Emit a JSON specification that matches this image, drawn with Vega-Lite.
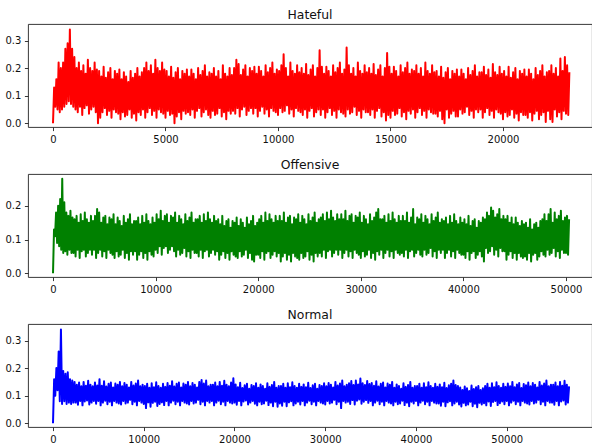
{
"$schema": "https://vega.github.io/schema/vega-lite/v6.json",
"background": "white",
"padding": {"left": 4, "top": 8, "right": 0, "bottom": 0},
"bounds": "flush",
"spacing": 47,
"config": {
  "font": "DejaVu Sans",
  "view": {"stroke": "#222222", "strokeWidth": 0.9},
  "axis": {"grid": false, "domain": false, "tickColor": "#222222", "tickWidth": 0.9, "tickSize": 3.6, "labelPadding": 3.6, "labelFont": "DejaVu Sans", "labelFontSize": 10, "labelColor": "#111111", "labelFlush": false, "labelOverlap": false},
  "title": {"font": "DejaVu Sans", "fontSize": 12.4, "fontWeight": "normal", "color": "#111111", "offset": 3, "anchor": "middle", "baseline": "alphabetic"}
},
"datasets": {
"hateful": [
{"x":0,"y":0},{"x":50,"y":0.13},{"x":100,"y":0.06},{"x":150,"y":0.16},{"x":200,"y":0.05},{"x":250,"y":0.22},{"x":300,"y":0.04},{"x":350,"y":0.2},{"x":400,"y":0.05},{"x":450,"y":0.22},{"x":500,"y":0.06},{"x":550,"y":0.27},{"x":600,"y":0.07},{"x":650,"y":0.29},{"x":700,"y":0.08},{"x":750,"y":0.34},{"x":800,"y":0.07},{"x":850,"y":0.27},{"x":900,"y":0.06},{"x":950,"y":0.24},
{"x":1000,"y":0.05},{"x":1050,"y":0.2},{"x":1100,"y":0.04},{"x":1150,"y":0.22},{"x":1200,"y":0.06},{"x":1250,"y":0.19},{"x":1300,"y":0.03},{"x":1350,"y":0.21},{"x":1400,"y":0.055},{"x":1450,"y":0.18},{"x":1500,"y":0.065},{"x":1550,"y":0.23},{"x":1600,"y":0.035},{"x":1650,"y":0.2},{"x":1700,"y":0.05},{"x":1750,"y":0.19},{"x":1800,"y":0.06},{"x":1850,"y":0.22},{"x":1900,"y":0.04},{"x":1950,"y":0.195},
{"x":2000,"y":0},{"x":2050,"y":0.19},{"x":2100,"y":0.02},{"x":2150,"y":0.17},{"x":2200,"y":0.04},{"x":2250,"y":0.205},{"x":2300,"y":0.055},{"x":2350,"y":0.165},{"x":2400,"y":0.03},{"x":2450,"y":0.185},{"x":2500,"y":0.045},{"x":2550,"y":0.2},{"x":2600,"y":0.02},{"x":2650,"y":0.16},{"x":2700,"y":0.05},{"x":2750,"y":0.19},{"x":2800,"y":0.04},{"x":2850,"y":0.18},{"x":2900,"y":0.035},{"x":2950,"y":0.195},
{"x":3000,"y":0.015},{"x":3050,"y":0.16},{"x":3100,"y":0.04},{"x":3150,"y":0.185},{"x":3200,"y":0.025},{"x":3250,"y":0.17},{"x":3300,"y":0.03},{"x":3350,"y":0.15},{"x":3400,"y":0.05},{"x":3450,"y":0.19},{"x":3500,"y":0.02},{"x":3550,"y":0.165},{"x":3600,"y":0.035},{"x":3650,"y":0.18},{"x":3700,"y":0.01},{"x":3750,"y":0.2},{"x":3800,"y":0.04},{"x":3850,"y":0.17},{"x":3900,"y":0.03},{"x":3950,"y":0.185},
{"x":4000,"y":0.05},{"x":4050,"y":0.2},{"x":4100,"y":0.02},{"x":4150,"y":0.22},{"x":4200,"y":0.04},{"x":4250,"y":0.19},{"x":4300,"y":0.055},{"x":4350,"y":0.21},{"x":4400,"y":0.03},{"x":4450,"y":0.18},{"x":4500,"y":0.045},{"x":4550,"y":0.23},{"x":4600,"y":0.02},{"x":4650,"y":0.2},{"x":4700,"y":0.05},{"x":4750,"y":0.19},{"x":4800,"y":0.04},{"x":4850,"y":0.22},{"x":4900,"y":0.035},{"x":4950,"y":0.195},
{"x":5000,"y":0.02},{"x":5050,"y":0.19},{"x":5100,"y":0.045},{"x":5150,"y":0.17},{"x":5200,"y":0.03},{"x":5250,"y":0.205},{"x":5300,"y":0.035},{"x":5350,"y":0.165},{"x":5400,"y":0},{"x":5450,"y":0.185},{"x":5500,"y":0.025},{"x":5550,"y":0.2},{"x":5600,"y":0.04},{"x":5650,"y":0.16},{"x":5700,"y":0.015},{"x":5750,"y":0.19},{"x":5800,"y":0.045},{"x":5850,"y":0.18},{"x":5900,"y":0.035},{"x":5950,"y":0.195},
{"x":6000,"y":0.04},{"x":6050,"y":0.17},{"x":6100,"y":0.03},{"x":6150,"y":0.195},{"x":6200,"y":0.05},{"x":6250,"y":0.18},{"x":6300,"y":0.02},{"x":6350,"y":0.16},{"x":6400,"y":0.045},{"x":6450,"y":0.2},{"x":6500,"y":0.055},{"x":6550,"y":0.175},{"x":6600,"y":0.025},{"x":6650,"y":0.19},{"x":6700,"y":0.04},{"x":6750,"y":0.21},{"x":6800,"y":0.05},{"x":6850,"y":0.17},{"x":6900,"y":0.03},{"x":6950,"y":0.185},
{"x":7000,"y":0.02},{"x":7050,"y":0.18},{"x":7100,"y":0.045},{"x":7150,"y":0.2},{"x":7200,"y":0.03},{"x":7250,"y":0.17},{"x":7300,"y":0.035},{"x":7350,"y":0.19},{"x":7400,"y":0.055},{"x":7450,"y":0.16},{"x":7500,"y":0.025},{"x":7550,"y":0.21},{"x":7600,"y":0.04},{"x":7650,"y":0.18},{"x":7700,"y":0.015},{"x":7750,"y":0.17},{"x":7800,"y":0.045},{"x":7850,"y":0.2},{"x":7900,"y":0.035},{"x":7950,"y":0.175},
{"x":8000,"y":0.045},{"x":8050,"y":0.2},{"x":8100,"y":0.035},{"x":8150,"y":0.23},{"x":8200,"y":0.055},{"x":8250,"y":0.215},{"x":8300,"y":0.025},{"x":8350,"y":0.175},{"x":8400,"y":0.05},{"x":8450,"y":0.195},{"x":8500,"y":0.06},{"x":8550,"y":0.21},{"x":8600,"y":0.03},{"x":8650,"y":0.17},{"x":8700,"y":0.045},{"x":8750,"y":0.2},{"x":8800,"y":0.055},{"x":8850,"y":0.19},{"x":8900,"y":0.035},{"x":8950,"y":0.205},
{"x":9000,"y":0.055},{"x":9050,"y":0.18},{"x":9100,"y":0.025},{"x":9150,"y":0.205},{"x":9200,"y":0.045},{"x":9250,"y":0.19},{"x":9300,"y":0.06},{"x":9350,"y":0.17},{"x":9400,"y":0.035},{"x":9450,"y":0.21},{"x":9500,"y":0.05},{"x":9550,"y":0.185},{"x":9600,"y":0.025},{"x":9650,"y":0.2},{"x":9700,"y":0.055},{"x":9750,"y":0.22},{"x":9800,"y":0.045},{"x":9850,"y":0.18},{"x":9900,"y":0.04},{"x":9950,"y":0.195},
{"x":10000,"y":0.03},{"x":10050,"y":0.19},{"x":10100,"y":0.055},{"x":10150,"y":0.21},{"x":10200,"y":0.04},{"x":10250,"y":0.25},{"x":10300,"y":0.045},{"x":10350,"y":0.2},{"x":10400,"y":0.065},{"x":10450,"y":0.17},{"x":10500,"y":0.035},{"x":10550,"y":0.22},{"x":10600,"y":0.05},{"x":10650,"y":0.19},{"x":10700,"y":0.025},{"x":10750,"y":0.18},{"x":10800,"y":0.055},{"x":10850,"y":0.21},{"x":10900,"y":0.045},{"x":10950,"y":0.185},
{"x":11000,"y":0.04},{"x":11050,"y":0.2},{"x":11100,"y":0.03},{"x":11150,"y":0.18},{"x":11200,"y":0.05},{"x":11250,"y":0.215},{"x":11300,"y":0.02},{"x":11350,"y":0.175},{"x":11400,"y":0.045},{"x":11450,"y":0.195},{"x":11500,"y":0.055},{"x":11550,"y":0.21},{"x":11600,"y":0.025},{"x":11650,"y":0.17},{"x":11700,"y":0.04},{"x":11750,"y":0.2},{"x":11800,"y":0.05},{"x":11850,"y":0.265},{"x":11900,"y":0.03},{"x":11950,"y":0.205},
{"x":12000,"y":0.05},{"x":12050,"y":0.18},{"x":12100,"y":0.02},{"x":12150,"y":0.205},{"x":12200,"y":0.04},{"x":12250,"y":0.19},{"x":12300,"y":0.055},{"x":12350,"y":0.17},{"x":12400,"y":0.03},{"x":12450,"y":0.21},{"x":12500,"y":0.045},{"x":12550,"y":0.185},{"x":12600,"y":0.02},{"x":12650,"y":0.2},{"x":12700,"y":0.05},{"x":12750,"y":0.22},{"x":12800,"y":0.04},{"x":12850,"y":0.18},{"x":12900,"y":0.035},{"x":12950,"y":0.195},
{"x":13000,"y":0.025},{"x":13050,"y":0.275},{"x":13100,"y":0.05},{"x":13150,"y":0.21},{"x":13200,"y":0.035},{"x":13250,"y":0.18},{"x":13300,"y":0.04},{"x":13350,"y":0.2},{"x":13400,"y":0.06},{"x":13450,"y":0.17},{"x":13500,"y":0.03},{"x":13550,"y":0.22},{"x":13600,"y":0.045},{"x":13650,"y":0.19},{"x":13700,"y":0.02},{"x":13750,"y":0.18},{"x":13800,"y":0.05},{"x":13850,"y":0.21},{"x":13900,"y":0.04},{"x":13950,"y":0.185},
{"x":14000,"y":0.04},{"x":14050,"y":0.2},{"x":14100,"y":0.03},{"x":14150,"y":0.18},{"x":14200,"y":0.05},{"x":14250,"y":0.215},{"x":14300,"y":0.02},{"x":14350,"y":0.175},{"x":14400,"y":0.045},{"x":14450,"y":0.195},{"x":14500,"y":0.055},{"x":14550,"y":0.21},{"x":14600,"y":0.025},{"x":14650,"y":0.17},{"x":14700,"y":0.04},{"x":14750,"y":0.2},{"x":14800,"y":0.01},{"x":14850,"y":0.255},{"x":14900,"y":0.03},{"x":14950,"y":0.205},
{"x":15000,"y":0.02},{"x":15050,"y":0.18},{"x":15100,"y":0.045},{"x":15150,"y":0.205},{"x":15200,"y":0.03},{"x":15250,"y":0.19},{"x":15300,"y":0.035},{"x":15350,"y":0.17},{"x":15400,"y":0.055},{"x":15450,"y":0.21},{"x":15500,"y":0.025},{"x":15550,"y":0.185},{"x":15600,"y":0.04},{"x":15650,"y":0.2},{"x":15700,"y":0.015},{"x":15750,"y":0.22},{"x":15800,"y":0.045},{"x":15850,"y":0.18},{"x":15900,"y":0.035},{"x":15950,"y":0.195},
{"x":16000,"y":0.05},{"x":16050,"y":0.19},{"x":16100,"y":0.02},{"x":16150,"y":0.21},{"x":16200,"y":0.04},{"x":16250,"y":0.18},{"x":16300,"y":0.055},{"x":16350,"y":0.2},{"x":16400,"y":0.03},{"x":16450,"y":0.17},{"x":16500,"y":0.045},{"x":16550,"y":0.22},{"x":16600,"y":0.02},{"x":16650,"y":0.19},{"x":16700,"y":0.05},{"x":16750,"y":0.18},{"x":16800,"y":0.04},{"x":16850,"y":0.21},{"x":16900,"y":0.035},{"x":16950,"y":0.185},
{"x":17000,"y":0.035},{"x":17050,"y":0.19},{"x":17100,"y":0.025},{"x":17150,"y":0.17},{"x":17200,"y":0.045},{"x":17250,"y":0.205},{"x":17300,"y":0.015},{"x":17350,"y":0.165},{"x":17400,"y":0},{"x":17450,"y":0.185},{"x":17500,"y":0.05},{"x":17550,"y":0.2},{"x":17600,"y":0.02},{"x":17650,"y":0.16},{"x":17700,"y":0.035},{"x":17750,"y":0.19},{"x":17800,"y":0.045},{"x":17850,"y":0.18},{"x":17900,"y":0.025},{"x":17950,"y":0.195},
{"x":18000,"y":0.025},{"x":18050,"y":0.17},{"x":18100,"y":0.05},{"x":18150,"y":0.195},{"x":18200,"y":0.035},{"x":18250,"y":0.18},{"x":18300,"y":0.04},{"x":18350,"y":0.16},{"x":18400,"y":0.06},{"x":18450,"y":0.2},{"x":18500,"y":0.03},{"x":18550,"y":0.175},{"x":18600,"y":0.045},{"x":18650,"y":0.19},{"x":18700,"y":0.02},{"x":18750,"y":0.21},{"x":18800,"y":0.05},{"x":18850,"y":0.17},{"x":18900,"y":0.04},{"x":18950,"y":0.185},
{"x":19000,"y":0.05},{"x":19050,"y":0.185},{"x":19100,"y":0.02},{"x":19150,"y":0.205},{"x":19200,"y":0.04},{"x":19250,"y":0.175},{"x":19300,"y":0.055},{"x":19350,"y":0.195},{"x":19400,"y":0.03},{"x":19450,"y":0.165},{"x":19500,"y":0.045},{"x":19550,"y":0.215},{"x":19600,"y":0.02},{"x":19650,"y":0.185},{"x":19700,"y":0.05},{"x":19750,"y":0.175},{"x":19800,"y":0.04},{"x":19850,"y":0.205},{"x":19900,"y":0.035},{"x":19950,"y":0.18},
{"x":20000,"y":0.015},{"x":20050,"y":0.19},{"x":20100,"y":0.04},{"x":20150,"y":0.17},{"x":20200,"y":0.025},{"x":20250,"y":0.205},{"x":20300,"y":0.03},{"x":20350,"y":0.165},{"x":20400,"y":0.05},{"x":20450,"y":0.185},{"x":20500,"y":0.02},{"x":20550,"y":0.2},{"x":20600,"y":0.035},{"x":20650,"y":0.16},{"x":20700,"y":0.01},{"x":20750,"y":0.19},{"x":20800,"y":0.04},{"x":20850,"y":0.18},{"x":20900,"y":0.03},{"x":20950,"y":0.195},
{"x":21000,"y":0.03},{"x":21050,"y":0.17},{"x":21100,"y":0.02},{"x":21150,"y":0.195},{"x":21200,"y":0.04},{"x":21250,"y":0.18},{"x":21300,"y":0.01},{"x":21350,"y":0.16},{"x":21400,"y":0.035},{"x":21450,"y":0.2},{"x":21500,"y":0.045},{"x":21550,"y":0.175},{"x":21600,"y":0.015},{"x":21650,"y":0.19},{"x":21700,"y":0.03},{"x":21750,"y":0.21},{"x":21800,"y":0.04},{"x":21850,"y":0.17},{"x":21900,"y":0.005},{"x":21950,"y":0.185},
{"x":22000,"y":0.045},{"x":22050,"y":0.19},{"x":22100,"y":0.015},{"x":22150,"y":0.21},{"x":22200,"y":0.005},{"x":22250,"y":0.18},{"x":22300,"y":0.05},{"x":22350,"y":0.2},{"x":22400,"y":0.025},{"x":22450,"y":0.17},{"x":22500,"y":0.04},{"x":22550,"y":0.235},{"x":22600,"y":0.015},{"x":22650,"y":0.19},{"x":22700,"y":0.045},{"x":22750,"y":0.24},{"x":22800,"y":0.035},{"x":22850,"y":0.21},{"x":22900,"y":0.03},{"x":22950,"y":0.185}
],
"offensive": [
{"x":0,"y":0},{"x":100,"y":0.13},{"x":200,"y":0.11},{"x":300,"y":0.18},{"x":400,"y":0.09},{"x":500,"y":0.2},{"x":600,"y":0.08},{"x":700,"y":0.22},{"x":800,"y":0.07},{"x":900,"y":0.28},{"x":1000,"y":0.06},{"x":1100,"y":0.21},{"x":1200,"y":0.065},{"x":1300,"y":0.18},{"x":1400,"y":0.055},{"x":1500,"y":0.17},{"x":1600,"y":0.07},{"x":1700,"y":0.185},{"x":1800,"y":0.06},{"x":1900,"y":0.165},
{"x":2000,"y":0.06},{"x":2100,"y":0.16},{"x":2200,"y":0.05},{"x":2300,"y":0.17},{"x":2400,"y":0.07},{"x":2500,"y":0.15},{"x":2600,"y":0.045},{"x":2700,"y":0.175},{"x":2800,"y":0.065},{"x":2900,"y":0.155},{"x":3000,"y":0.07},{"x":3100,"y":0.18},{"x":3200,"y":0.05},{"x":3300,"y":0.16},{"x":3400,"y":0.06},{"x":3500,"y":0.15},{"x":3600,"y":0.07},{"x":3700,"y":0.17},{"x":3800,"y":0.055},{"x":3900,"y":0.155},
{"x":4000,"y":0.07},{"x":4100,"y":0.17},{"x":4200,"y":0.045},{"x":4300,"y":0.19},{"x":4400,"y":0.06},{"x":4500,"y":0.18},{"x":4600,"y":0.07},{"x":4700,"y":0.15},{"x":4800,"y":0.05},{"x":4900,"y":0.165},{"x":5000,"y":0.065},{"x":5100,"y":0.17},{"x":5200,"y":0.045},{"x":5300,"y":0.145},{"x":5400,"y":0.07},{"x":5500,"y":0.165},{"x":5600,"y":0.06},{"x":5700,"y":0.16},{"x":5800,"y":0.055},{"x":5900,"y":0.175},
{"x":6000,"y":0.045},{"x":6100,"y":0.145},{"x":6200,"y":0.065},{"x":6300,"y":0.165},{"x":6400,"y":0.05},{"x":6500,"y":0.155},{"x":6600,"y":0.055},{"x":6700,"y":0.14},{"x":6800,"y":0.07},{"x":6900,"y":0.17},{"x":7000,"y":0.045},{"x":7100,"y":0.15},{"x":7200,"y":0.06},{"x":7300,"y":0.16},{"x":7400,"y":0.04},{"x":7500,"y":0.175},{"x":7600,"y":0.065},{"x":7700,"y":0.145},{"x":7800,"y":0.055},{"x":7900,"y":0.155},
{"x":8000,"y":0.065},{"x":8100,"y":0.155},{"x":8200,"y":0.04},{"x":8300,"y":0.165},{"x":8400,"y":0.055},{"x":8500,"y":0.145},{"x":8600,"y":0.065},{"x":8700,"y":0.17},{"x":8800,"y":0.045},{"x":8900,"y":0.15},{"x":9000,"y":0.06},{"x":9100,"y":0.175},{"x":9200,"y":0.04},{"x":9300,"y":0.155},{"x":9400,"y":0.065},{"x":9500,"y":0.145},{"x":9600,"y":0.055},{"x":9700,"y":0.165},{"x":9800,"y":0.05},{"x":9900,"y":0.15},
{"x":10000,"y":0.07},{"x":10100,"y":0.175},{"x":10200,"y":0.06},{"x":10300,"y":0.16},{"x":10400,"y":0.08},{"x":10500,"y":0.185},{"x":10600,"y":0.055},{"x":10700,"y":0.155},{"x":10800,"y":0.075},{"x":10900,"y":0.17},{"x":11000,"y":0.08},{"x":11100,"y":0.175},{"x":11200,"y":0.06},{"x":11300,"y":0.15},{"x":11400,"y":0.07},{"x":11500,"y":0.17},{"x":11600,"y":0.08},{"x":11700,"y":0.165},{"x":11800,"y":0.065},{"x":11900,"y":0.18},
{"x":12000,"y":0.05},{"x":12100,"y":0.15},{"x":12200,"y":0.07},{"x":12300,"y":0.17},{"x":12400,"y":0.055},{"x":12500,"y":0.16},{"x":12600,"y":0.06},{"x":12700,"y":0.145},{"x":12800,"y":0.075},{"x":12900,"y":0.175},{"x":13000,"y":0.05},{"x":13100,"y":0.155},{"x":13200,"y":0.065},{"x":13300,"y":0.165},{"x":13400,"y":0.045},{"x":13500,"y":0.18},{"x":13600,"y":0.07},{"x":13700,"y":0.15},{"x":13800,"y":0.06},{"x":13900,"y":0.16},
{"x":14000,"y":0.06},{"x":14100,"y":0.16},{"x":14200,"y":0.05},{"x":14300,"y":0.17},{"x":14400,"y":0.07},{"x":14500,"y":0.15},{"x":14600,"y":0.045},{"x":14700,"y":0.175},{"x":14800,"y":0.065},{"x":14900,"y":0.155},{"x":15000,"y":0.07},{"x":15100,"y":0.18},{"x":15200,"y":0.05},{"x":15300,"y":0.16},{"x":15400,"y":0.06},{"x":15500,"y":0.15},{"x":15600,"y":0.07},{"x":15700,"y":0.17},{"x":15800,"y":0.055},{"x":15900,"y":0.155},
{"x":16000,"y":0.065},{"x":16100,"y":0.16},{"x":16200,"y":0.04},{"x":16300,"y":0.145},{"x":16400,"y":0.055},{"x":16500,"y":0.17},{"x":16600,"y":0.065},{"x":16700,"y":0.14},{"x":16800,"y":0.045},{"x":16900,"y":0.155},{"x":17000,"y":0.06},{"x":17100,"y":0.16},{"x":17200,"y":0.04},{"x":17300,"y":0.135},{"x":17400,"y":0.065},{"x":17500,"y":0.155},{"x":17600,"y":0.055},{"x":17700,"y":0.15},{"x":17800,"y":0.05},{"x":17900,"y":0.165},
{"x":18000,"y":0.045},{"x":18100,"y":0.14},{"x":18200,"y":0.065},{"x":18300,"y":0.16},{"x":18400,"y":0.05},{"x":18500,"y":0.15},{"x":18600,"y":0.055},{"x":18700,"y":0.135},{"x":18800,"y":0.07},{"x":18900,"y":0.165},{"x":19000,"y":0.045},{"x":19100,"y":0.145},{"x":19200,"y":0.06},{"x":19300,"y":0.155},{"x":19400,"y":0.04},{"x":19500,"y":0.17},{"x":19600,"y":0.035},{"x":19700,"y":0.14},{"x":19800,"y":0.055},{"x":19900,"y":0.15},
{"x":20000,"y":0.055},{"x":20100,"y":0.16},{"x":20200,"y":0.045},{"x":20300,"y":0.17},{"x":20400,"y":0.065},{"x":20500,"y":0.15},{"x":20600,"y":0.04},{"x":20700,"y":0.18},{"x":20800,"y":0.06},{"x":20900,"y":0.155},{"x":21000,"y":0.065},{"x":21100,"y":0.175},{"x":21200,"y":0.045},{"x":21300,"y":0.16},{"x":21400,"y":0.055},{"x":21500,"y":0.15},{"x":21600,"y":0.065},{"x":21700,"y":0.17},{"x":21800,"y":0.05},{"x":21900,"y":0.155},
{"x":22000,"y":0.06},{"x":22100,"y":0.17},{"x":22200,"y":0.035},{"x":22300,"y":0.155},{"x":22400,"y":0.05},{"x":22500,"y":0.18},{"x":22600,"y":0.06},{"x":22700,"y":0.15},{"x":22800,"y":0.04},{"x":22900,"y":0.165},{"x":23000,"y":0.055},{"x":23100,"y":0.17},{"x":23200,"y":0.035},{"x":23300,"y":0.145},{"x":23400,"y":0.06},{"x":23500,"y":0.165},{"x":23600,"y":0.05},{"x":23700,"y":0.16},{"x":23800,"y":0.045},{"x":23900,"y":0.175},
{"x":24000,"y":0.04},{"x":24100,"y":0.15},{"x":24200,"y":0.06},{"x":24300,"y":0.17},{"x":24400,"y":0.045},{"x":24500,"y":0.16},{"x":24600,"y":0.05},{"x":24700,"y":0.145},{"x":24800,"y":0.065},{"x":24900,"y":0.175},{"x":25000,"y":0.04},{"x":25100,"y":0.155},{"x":25200,"y":0.055},{"x":25300,"y":0.165},{"x":25400,"y":0.035},{"x":25500,"y":0.18},{"x":25600,"y":0.06},{"x":25700,"y":0.15},{"x":25800,"y":0.05},{"x":25900,"y":0.16},
{"x":26000,"y":0.06},{"x":26100,"y":0.165},{"x":26200,"y":0.05},{"x":26300,"y":0.175},{"x":26400,"y":0.07},{"x":26500,"y":0.155},{"x":26600,"y":0.045},{"x":26700,"y":0.18},{"x":26800,"y":0.065},{"x":26900,"y":0.16},{"x":27000,"y":0.07},{"x":27100,"y":0.185},{"x":27200,"y":0.05},{"x":27300,"y":0.165},{"x":27400,"y":0.06},{"x":27500,"y":0.155},{"x":27600,"y":0.07},{"x":27700,"y":0.175},{"x":27800,"y":0.055},{"x":27900,"y":0.16},
{"x":28000,"y":0.07},{"x":28100,"y":0.175},{"x":28200,"y":0.045},{"x":28300,"y":0.16},{"x":28400,"y":0.06},{"x":28500,"y":0.185},{"x":28600,"y":0.07},{"x":28700,"y":0.155},{"x":28800,"y":0.05},{"x":28900,"y":0.17},{"x":29000,"y":0.065},{"x":29100,"y":0.175},{"x":29200,"y":0.045},{"x":29300,"y":0.15},{"x":29400,"y":0.07},{"x":29500,"y":0.17},{"x":29600,"y":0.06},{"x":29700,"y":0.165},{"x":29800,"y":0.055},{"x":29900,"y":0.18},
{"x":30000,"y":0.045},{"x":30100,"y":0.15},{"x":30200,"y":0.065},{"x":30300,"y":0.17},{"x":30400,"y":0.05},{"x":30500,"y":0.16},{"x":30600,"y":0.055},{"x":30700,"y":0.145},{"x":30800,"y":0.07},{"x":30900,"y":0.175},{"x":31000,"y":0.045},{"x":31100,"y":0.155},{"x":31200,"y":0.06},{"x":31300,"y":0.165},{"x":31400,"y":0.04},{"x":31500,"y":0.18},{"x":31600,"y":0.065},{"x":31700,"y":0.19},{"x":31800,"y":0.055},{"x":31900,"y":0.16},
{"x":32000,"y":0.07},{"x":32100,"y":0.16},{"x":32200,"y":0.045},{"x":32300,"y":0.17},{"x":32400,"y":0.06},{"x":32500,"y":0.15},{"x":32600,"y":0.07},{"x":32700,"y":0.175},{"x":32800,"y":0.05},{"x":32900,"y":0.155},{"x":33000,"y":0.065},{"x":33100,"y":0.18},{"x":33200,"y":0.045},{"x":33300,"y":0.16},{"x":33400,"y":0.07},{"x":33500,"y":0.15},{"x":33600,"y":0.06},{"x":33700,"y":0.17},{"x":33800,"y":0.055},{"x":33900,"y":0.155},
{"x":34000,"y":0.06},{"x":34100,"y":0.17},{"x":34200,"y":0.05},{"x":34300,"y":0.155},{"x":34400,"y":0.07},{"x":34500,"y":0.18},{"x":34600,"y":0.045},{"x":34700,"y":0.15},{"x":34800,"y":0.065},{"x":34900,"y":0.165},{"x":35000,"y":0.07},{"x":35100,"y":0.19},{"x":35200,"y":0.05},{"x":35300,"y":0.145},{"x":35400,"y":0.06},{"x":35500,"y":0.165},{"x":35600,"y":0.07},{"x":35700,"y":0.16},{"x":35800,"y":0.055},{"x":35900,"y":0.175},
{"x":36000,"y":0.05},{"x":36100,"y":0.15},{"x":36200,"y":0.07},{"x":36300,"y":0.17},{"x":36400,"y":0.055},{"x":36500,"y":0.16},{"x":36600,"y":0.06},{"x":36700,"y":0.145},{"x":36800,"y":0.075},{"x":36900,"y":0.175},{"x":37000,"y":0.05},{"x":37100,"y":0.155},{"x":37200,"y":0.065},{"x":37300,"y":0.165},{"x":37400,"y":0.045},{"x":37500,"y":0.18},{"x":37600,"y":0.07},{"x":37700,"y":0.15},{"x":37800,"y":0.06},{"x":37900,"y":0.16},
{"x":38000,"y":0.07},{"x":38100,"y":0.155},{"x":38200,"y":0.045},{"x":38300,"y":0.165},{"x":38400,"y":0.06},{"x":38500,"y":0.145},{"x":38600,"y":0.07},{"x":38700,"y":0.17},{"x":38800,"y":0.05},{"x":38900,"y":0.15},{"x":39000,"y":0.065},{"x":39100,"y":0.175},{"x":39200,"y":0.045},{"x":39300,"y":0.155},{"x":39400,"y":0.07},{"x":39500,"y":0.145},{"x":39600,"y":0.06},{"x":39700,"y":0.165},{"x":39800,"y":0.055},{"x":39900,"y":0.15},
{"x":40000,"y":0.055},{"x":40100,"y":0.16},{"x":40200,"y":0.045},{"x":40300,"y":0.145},{"x":40400,"y":0.065},{"x":40500,"y":0.17},{"x":40600,"y":0.04},{"x":40700,"y":0.14},{"x":40800,"y":0.06},{"x":40900,"y":0.155},{"x":41000,"y":0.065},{"x":41100,"y":0.16},{"x":41200,"y":0.045},{"x":41300,"y":0.135},{"x":41400,"y":0.055},{"x":41500,"y":0.155},{"x":41600,"y":0.065},{"x":41700,"y":0.15},{"x":41800,"y":0.05},{"x":41900,"y":0.165},
{"x":42000,"y":0.035},{"x":42100,"y":0.16},{"x":42200,"y":0.075},{"x":42300,"y":0.18},{"x":42400,"y":0.06},{"x":42500,"y":0.17},{"x":42600,"y":0.065},{"x":42700,"y":0.195},{"x":42800,"y":0.08},{"x":42900,"y":0.185},{"x":43000,"y":0.055},{"x":43100,"y":0.165},{"x":43200,"y":0.07},{"x":43300,"y":0.175},{"x":43400,"y":0.05},{"x":43500,"y":0.19},{"x":43600,"y":0.075},{"x":43700,"y":0.16},{"x":43800,"y":0.065},{"x":43900,"y":0.17},
{"x":44000,"y":0.065},{"x":44100,"y":0.16},{"x":44200,"y":0.04},{"x":44300,"y":0.17},{"x":44400,"y":0.055},{"x":44500,"y":0.15},{"x":44600,"y":0.065},{"x":44700,"y":0.165},{"x":44800,"y":0.045},{"x":44900,"y":0.145},{"x":45000,"y":0.06},{"x":45100,"y":0.165},{"x":45200,"y":0.04},{"x":45300,"y":0.15},{"x":45400,"y":0.06},{"x":45500,"y":0.14},{"x":45600,"y":0.05},{"x":45700,"y":0.155},{"x":45800,"y":0.045},{"x":45900,"y":0.145},
{"x":46000,"y":0.05},{"x":46100,"y":0.15},{"x":46200,"y":0.04},{"x":46300,"y":0.135},{"x":46400,"y":0.06},{"x":46500,"y":0.16},{"x":46600,"y":0.035},{"x":46700,"y":0.13},{"x":46800,"y":0.055},{"x":46900,"y":0.145},{"x":47000,"y":0.06},{"x":47100,"y":0.15},{"x":47200,"y":0.04},{"x":47300,"y":0.135},{"x":47400,"y":0.05},{"x":47500,"y":0.155},{"x":47600,"y":0.065},{"x":47700,"y":0.16},{"x":47800,"y":0.055},{"x":47900,"y":0.175},
{"x":48000,"y":0.05},{"x":48100,"y":0.155},{"x":48200,"y":0.07},{"x":48300,"y":0.175},{"x":48400,"y":0.055},{"x":48500,"y":0.19},{"x":48600,"y":0.06},{"x":48700,"y":0.15},{"x":48800,"y":0.075},{"x":48900,"y":0.18},{"x":49000,"y":0.05},{"x":49100,"y":0.16},{"x":49200,"y":0.065},{"x":49300,"y":0.17},{"x":49400,"y":0.045},{"x":49500,"y":0.185},{"x":49600,"y":0.07},{"x":49700,"y":0.155},{"x":49800,"y":0.06},{"x":49900,"y":0.165},
{"x":50000,"y":0.06},{"x":50100,"y":0.17},{"x":50200,"y":0.055},{"x":50300,"y":0.16}
],
"normal": [
{"x":0,"y":0},{"x":125,"y":0.16},{"x":250,"y":0.1},{"x":375,"y":0.2},{"x":500,"y":0.12},{"x":625,"y":0.26},{"x":750,"y":0.08},{"x":875,"y":0.34},{"x":1000,"y":0.07},{"x":1125,"y":0.19},{"x":1250,"y":0.08},{"x":1375,"y":0.18},{"x":1500,"y":0.07},{"x":1625,"y":0.185},{"x":1750,"y":0.075},{"x":1875,"y":0.16},{"x":2000,"y":0.07},{"x":2125,"y":0.155},{"x":2250,"y":0.075},{"x":2375,"y":0.15},
{"x":2500,"y":0.075},{"x":2625,"y":0.14},{"x":2750,"y":0.067},{"x":2875,"y":0.148},{"x":3000,"y":0.081},{"x":3125,"y":0.134},{"x":3250,"y":0.065},{"x":3375,"y":0.15},{"x":3500,"y":0.079},{"x":3625,"y":0.136},{"x":3750,"y":0.083},{"x":3875,"y":0.154},{"x":4000,"y":0.068},{"x":4125,"y":0.14},{"x":4250,"y":0.075},{"x":4375,"y":0.134},{"x":4500,"y":0.081},{"x":4625,"y":0.148},{"x":4750,"y":0.071},{"x":4875,"y":0.137},
{"x":5000,"y":0.081},{"x":5125,"y":0.16},{"x":5250,"y":0.065},{"x":5375,"y":0.136},{"x":5500,"y":0.075},{"x":5625,"y":0.152},{"x":5750,"y":0.082},{"x":5875,"y":0.133},{"x":6000,"y":0.069},{"x":6125,"y":0.143},{"x":6250,"y":0.078},{"x":6375,"y":0.148},{"x":6500,"y":0.065},{"x":6625,"y":0.13},{"x":6750,"y":0.081},{"x":6875,"y":0.144},{"x":7000,"y":0.075},{"x":7125,"y":0.14},{"x":7250,"y":0.072},{"x":7375,"y":0.15},
{"x":7500,"y":0.068},{"x":7625,"y":0.134},{"x":7750,"y":0.081},{"x":7875,"y":0.146},{"x":8000,"y":0.072},{"x":8125,"y":0.14},{"x":8250,"y":0.075},{"x":8375,"y":0.13},{"x":8500,"y":0.085},{"x":8625,"y":0.15},{"x":8750,"y":0.069},{"x":8875,"y":0.137},{"x":9000,"y":0.078},{"x":9125,"y":0.144},{"x":9250,"y":0.065},{"x":9375,"y":0.155},{"x":9500,"y":0.081},{"x":9625,"y":0.134},{"x":9750,"y":0.075},{"x":9875,"y":0.14},
{"x":10000,"y":0.07},{"x":10125,"y":0.135},{"x":10250,"y":0.055},{"x":10375,"y":0.143},{"x":10500,"y":0.076},{"x":10625,"y":0.129},{"x":10750,"y":0.06},{"x":10875,"y":0.145},{"x":11000,"y":0.074},{"x":11125,"y":0.131},{"x":11250,"y":0.078},{"x":11375,"y":0.149},{"x":11500,"y":0.063},{"x":11625,"y":0.135},{"x":11750,"y":0.07},{"x":11875,"y":0.129},{"x":12000,"y":0.076},{"x":12125,"y":0.143},{"x":12250,"y":0.066},{"x":12375,"y":0.132},
{"x":12500,"y":0.081},{"x":12625,"y":0.146},{"x":12750,"y":0.065},{"x":12875,"y":0.136},{"x":13000,"y":0.075},{"x":13125,"y":0.152},{"x":13250,"y":0.082},{"x":13375,"y":0.133},{"x":13500,"y":0.069},{"x":13625,"y":0.143},{"x":13750,"y":0.078},{"x":13875,"y":0.148},{"x":14000,"y":0.065},{"x":14125,"y":0.13},{"x":14250,"y":0.081},{"x":14375,"y":0.144},{"x":14500,"y":0.075},{"x":14625,"y":0.14},{"x":14750,"y":0.072},{"x":14875,"y":0.15},
{"x":15000,"y":0.068},{"x":15125,"y":0.134},{"x":15250,"y":0.081},{"x":15375,"y":0.146},{"x":15500,"y":0.072},{"x":15625,"y":0.14},{"x":15750,"y":0.075},{"x":15875,"y":0.13},{"x":16000,"y":0.085},{"x":16125,"y":0.15},{"x":16250,"y":0.069},{"x":16375,"y":0.157},{"x":16500,"y":0.078},{"x":16625,"y":0.144},{"x":16750,"y":0.065},{"x":16875,"y":0.155},{"x":17000,"y":0.081},{"x":17125,"y":0.134},{"x":17250,"y":0.075},{"x":17375,"y":0.14},
{"x":17500,"y":0.081},{"x":17625,"y":0.14},{"x":17750,"y":0.065},{"x":17875,"y":0.148},{"x":18000,"y":0.075},{"x":18125,"y":0.134},{"x":18250,"y":0.082},{"x":18375,"y":0.15},{"x":18500,"y":0.069},{"x":18625,"y":0.136},{"x":18750,"y":0.078},{"x":18875,"y":0.154},{"x":19000,"y":0.065},{"x":19125,"y":0.14},{"x":19250,"y":0.081},{"x":19375,"y":0.134},{"x":19500,"y":0.075},{"x":19625,"y":0.148},{"x":19750,"y":0.072},{"x":19875,"y":0.163},
{"x":20000,"y":0.075},{"x":20125,"y":0.141},{"x":20250,"y":0.067},{"x":20375,"y":0.131},{"x":20500,"y":0.081},{"x":20625,"y":0.147},{"x":20750,"y":0.065},{"x":20875,"y":0.128},{"x":21000,"y":0.079},{"x":21125,"y":0.138},{"x":21250,"y":0.083},{"x":21375,"y":0.143},{"x":21500,"y":0.068},{"x":21625,"y":0.125},{"x":21750,"y":0.075},{"x":21875,"y":0.139},{"x":22000,"y":0.081},{"x":22125,"y":0.135},{"x":22250,"y":0.071},{"x":22375,"y":0.145},
{"x":22500,"y":0.065},{"x":22625,"y":0.129},{"x":22750,"y":0.078},{"x":22875,"y":0.141},{"x":23000,"y":0.069},{"x":23125,"y":0.135},{"x":23250,"y":0.072},{"x":23375,"y":0.125},{"x":23500,"y":0.082},{"x":23625,"y":0.145},{"x":23750,"y":0.066},{"x":23875,"y":0.132},{"x":24000,"y":0.075},{"x":24125,"y":0.139},{"x":24250,"y":0.062},{"x":24375,"y":0.15},{"x":24500,"y":0.078},{"x":24625,"y":0.129},{"x":24750,"y":0.06},{"x":24875,"y":0.135},
{"x":25000,"y":0.072},{"x":25125,"y":0.135},{"x":25250,"y":0.064},{"x":25375,"y":0.143},{"x":25500,"y":0.078},{"x":25625,"y":0.129},{"x":25750,"y":0.062},{"x":25875,"y":0.145},{"x":26000,"y":0.076},{"x":26125,"y":0.131},{"x":26250,"y":0.08},{"x":26375,"y":0.149},{"x":26500,"y":0.065},{"x":26625,"y":0.135},{"x":26750,"y":0.072},{"x":26875,"y":0.129},{"x":27000,"y":0.078},{"x":27125,"y":0.143},{"x":27250,"y":0.068},{"x":27375,"y":0.132},
{"x":27500,"y":0.081},{"x":27625,"y":0.141},{"x":27750,"y":0.065},{"x":27875,"y":0.131},{"x":28000,"y":0.075},{"x":28125,"y":0.147},{"x":28250,"y":0.082},{"x":28375,"y":0.128},{"x":28500,"y":0.069},{"x":28625,"y":0.138},{"x":28750,"y":0.078},{"x":28875,"y":0.143},{"x":29000,"y":0.065},{"x":29125,"y":0.125},{"x":29250,"y":0.081},{"x":29375,"y":0.139},{"x":29500,"y":0.075},{"x":29625,"y":0.135},{"x":29750,"y":0.072},{"x":29875,"y":0.145},
{"x":30000,"y":0.068},{"x":30125,"y":0.134},{"x":30250,"y":0.081},{"x":30375,"y":0.146},{"x":30500,"y":0.072},{"x":30625,"y":0.14},{"x":30750,"y":0.075},{"x":30875,"y":0.13},{"x":31000,"y":0.085},{"x":31125,"y":0.15},{"x":31250,"y":0.069},{"x":31375,"y":0.137},{"x":31500,"y":0.078},{"x":31625,"y":0.144},{"x":31750,"y":0.055},{"x":31875,"y":0.155},{"x":32000,"y":0.081},{"x":32125,"y":0.134},{"x":32250,"y":0.075},{"x":32375,"y":0.14},
{"x":32500,"y":0.078},{"x":32625,"y":0.145},{"x":32750,"y":0.07},{"x":32875,"y":0.153},{"x":33000,"y":0.084},{"x":33125,"y":0.139},{"x":33250,"y":0.068},{"x":33375,"y":0.155},{"x":33500,"y":0.082},{"x":33625,"y":0.141},{"x":33750,"y":0.086},{"x":33875,"y":0.162},{"x":34000,"y":0.071},{"x":34125,"y":0.145},{"x":34250,"y":0.078},{"x":34375,"y":0.139},{"x":34500,"y":0.084},{"x":34625,"y":0.153},{"x":34750,"y":0.074},{"x":34875,"y":0.142},
{"x":35000,"y":0.081},{"x":35125,"y":0.146},{"x":35250,"y":0.065},{"x":35375,"y":0.136},{"x":35500,"y":0.075},{"x":35625,"y":0.152},{"x":35750,"y":0.082},{"x":35875,"y":0.133},{"x":36000,"y":0.069},{"x":36125,"y":0.143},{"x":36250,"y":0.078},{"x":36375,"y":0.148},{"x":36500,"y":0.065},{"x":36625,"y":0.13},{"x":36750,"y":0.081},{"x":36875,"y":0.144},{"x":37000,"y":0.075},{"x":37125,"y":0.14},{"x":37250,"y":0.072},{"x":37375,"y":0.15},
{"x":37500,"y":0.065},{"x":37625,"y":0.129},{"x":37750,"y":0.078},{"x":37875,"y":0.141},{"x":38000,"y":0.069},{"x":38125,"y":0.135},{"x":38250,"y":0.072},{"x":38375,"y":0.125},{"x":38500,"y":0.082},{"x":38625,"y":0.145},{"x":38750,"y":0.066},{"x":38875,"y":0.132},{"x":39000,"y":0.075},{"x":39125,"y":0.139},{"x":39250,"y":0.062},{"x":39375,"y":0.15},{"x":39500,"y":0.078},{"x":39625,"y":0.129},{"x":39750,"y":0.072},{"x":39875,"y":0.135},
{"x":40000,"y":0.081},{"x":40125,"y":0.135},{"x":40250,"y":0.065},{"x":40375,"y":0.143},{"x":40500,"y":0.075},{"x":40625,"y":0.129},{"x":40750,"y":0.082},{"x":40875,"y":0.145},{"x":41000,"y":0.069},{"x":41125,"y":0.131},{"x":41250,"y":0.078},{"x":41375,"y":0.149},{"x":41500,"y":0.065},{"x":41625,"y":0.135},{"x":41750,"y":0.081},{"x":41875,"y":0.129},{"x":42000,"y":0.075},{"x":42125,"y":0.143},{"x":42250,"y":0.072},{"x":42375,"y":0.132},
{"x":42500,"y":0.072},{"x":42625,"y":0.141},{"x":42750,"y":0.064},{"x":42875,"y":0.131},{"x":43000,"y":0.078},{"x":43125,"y":0.147},{"x":43250,"y":0.062},{"x":43375,"y":0.128},{"x":43500,"y":0.076},{"x":43625,"y":0.138},{"x":43750,"y":0.08},{"x":43875,"y":0.143},{"x":44000,"y":0.065},{"x":44125,"y":0.155},{"x":44250,"y":0.072},{"x":44375,"y":0.139},{"x":44500,"y":0.078},{"x":44625,"y":0.135},{"x":44750,"y":0.068},{"x":44875,"y":0.13},
{"x":45000,"y":0.061},{"x":45125,"y":0.121},{"x":45250,"y":0.074},{"x":45375,"y":0.133},{"x":45500,"y":0.065},{"x":45625,"y":0.127},{"x":45750,"y":0.068},{"x":45875,"y":0.117},{"x":46000,"y":0.078},{"x":46125,"y":0.137},{"x":46250,"y":0.062},{"x":46375,"y":0.124},{"x":46500,"y":0.071},{"x":46625,"y":0.131},{"x":46750,"y":0.058},{"x":46875,"y":0.135},{"x":47000,"y":0.074},{"x":47125,"y":0.121},{"x":47250,"y":0.068},{"x":47375,"y":0.127},
{"x":47500,"y":0.073},{"x":47625,"y":0.135},{"x":47750,"y":0.065},{"x":47875,"y":0.143},{"x":48000,"y":0.079},{"x":48125,"y":0.129},{"x":48250,"y":0.063},{"x":48375,"y":0.145},{"x":48500,"y":0.077},{"x":48625,"y":0.131},{"x":48750,"y":0.081},{"x":48875,"y":0.149},{"x":49000,"y":0.066},{"x":49125,"y":0.135},{"x":49250,"y":0.073},{"x":49375,"y":0.129},{"x":49500,"y":0.079},{"x":49625,"y":0.143},{"x":49750,"y":0.069},{"x":49875,"y":0.132},
{"x":50000,"y":0.081},{"x":50125,"y":0.144},{"x":50250,"y":0.065},{"x":50375,"y":0.134},{"x":50500,"y":0.075},{"x":50625,"y":0.15},{"x":50750,"y":0.082},{"x":50875,"y":0.131},{"x":51000,"y":0.069},{"x":51125,"y":0.141},{"x":51250,"y":0.078},{"x":51375,"y":0.146},{"x":51500,"y":0.065},{"x":51625,"y":0.128},{"x":51750,"y":0.081},{"x":51875,"y":0.142},{"x":52000,"y":0.075},{"x":52125,"y":0.138},{"x":52250,"y":0.072},{"x":52375,"y":0.148},
{"x":52500,"y":0.068},{"x":52625,"y":0.134},{"x":52750,"y":0.081},{"x":52875,"y":0.146},{"x":53000,"y":0.072},{"x":53125,"y":0.14},{"x":53250,"y":0.075},{"x":53375,"y":0.13},{"x":53500,"y":0.085},{"x":53625,"y":0.15},{"x":53750,"y":0.069},{"x":53875,"y":0.137},{"x":54000,"y":0.078},{"x":54125,"y":0.144},{"x":54250,"y":0.065},{"x":54375,"y":0.155},{"x":54500,"y":0.081},{"x":54625,"y":0.134},{"x":54750,"y":0.075},{"x":54875,"y":0.14},
{"x":55000,"y":0.075},{"x":55125,"y":0.14},{"x":55250,"y":0.067},{"x":55375,"y":0.148},{"x":55500,"y":0.081},{"x":55625,"y":0.134},{"x":55750,"y":0.065},{"x":55875,"y":0.15},{"x":56000,"y":0.079},{"x":56125,"y":0.136},{"x":56250,"y":0.083},{"x":56375,"y":0.154},{"x":56500,"y":0.068},{"x":56625,"y":0.14},{"x":56750,"y":0.075},{"x":56875,"y":0.134}
]
},
"vconcat": [
  {"title": "Hateful", "width": 564, "height": 103, "data": {"name": "hateful"},
   "mark": {"type": "line", "color": "#ff0000", "strokeWidth": 2, "strokeJoin": "round"},
   "encoding": {
     "x": {"field": "x", "type": "quantitative", "title": null, "scale": {"domain": [-1111, 23956], "nice": false, "zero": false}, "axis": {"values": [0, 5000, 10000, 15000, 20000], "format": "d"}},
     "y": {"field": "y", "type": "quantitative", "title": null, "scale": {"domain": [-0.0135, 0.36], "nice": false, "zero": false}, "axis": {"values": [0, 0.1, 0.2, 0.3], "format": ".1f"}}}},
  {"title": "Offensive", "width": 564, "height": 103, "data": {"name": "offensive"},
   "mark": {"type": "line", "color": "#008000", "strokeWidth": 2, "strokeJoin": "round"},
   "encoding": {
     "x": {"field": "x", "type": "quantitative", "title": null, "scale": {"domain": [-2437, 52534], "nice": false, "zero": false}, "axis": {"values": [0, 10000, 20000, 30000, 40000, 50000], "format": "d"}},
     "y": {"field": "y", "type": "quantitative", "title": null, "scale": {"domain": [-0.011, 0.294], "nice": false, "zero": false}, "axis": {"values": [0, 0.1, 0.2], "format": ".1f"}}}},
  {"title": "Normal", "width": 564, "height": 103, "data": {"name": "normal"},
   "mark": {"type": "line", "color": "#0000ff", "strokeWidth": 2, "strokeJoin": "round"},
   "encoding": {
     "x": {"field": "x", "type": "quantitative", "title": null, "scale": {"domain": [-2755, 59400], "nice": false, "zero": false}, "axis": {"values": [0, 10000, 20000, 30000, 40000, 50000], "format": "d"}},
     "y": {"field": "y", "type": "quantitative", "title": null, "scale": {"domain": [-0.0135, 0.36], "nice": false, "zero": false}, "axis": {"values": [0, 0.1, 0.2, 0.3], "format": ".1f"}}}}
]
}
